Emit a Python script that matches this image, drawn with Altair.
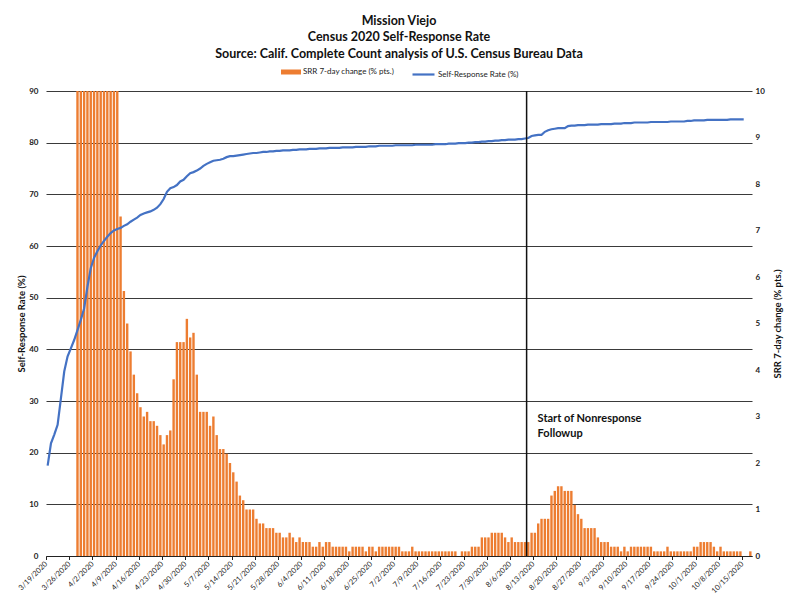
import altair as alt
import pandas as pd

START = "2020-03-19"
LINE_NAME = "Self-Response Rate (%)"
BAR_NAME = "SRR 7-day change (% pts.)"

# SRR 7-day change (% pts.), one value per day starting 3/19/2020
srr_7day = (
    [None] * 9
    + [10] * 13
    + [7.3, 5.7, 5.0, 4.4, 3.9, 3.5, 3.2, 3.0, 3.1, 2.9, 2.9, 2.8, 2.6, 2.4, 2.6, 2.7]
    + [3.8, 4.6, 4.6, 4.6, 5.1, 4.7, 4.8, 3.9, 3.1, 3.1, 3.1, 2.8, 3.0, 2.6, 2.3, 2.3, 2.2, 2.0]
    + [1.8, 1.6, 1.3, 1.2, 1.0, 1.0, 1.0, 0.8, 0.7, 0.7, 0.6, 0.6, 0.6, 0.5, 0.5]
    + [0.4, 0.4, 0.5, 0.4, 0.3, 0.4, 0.3, 0.3, 0.3, 0.2, 0.2, 0.3, 0.2, 0.3, 0.3]
    + [0.2, 0.2, 0.2, 0.2, 0.2, 0.1, 0.2, 0.2, 0.2, 0.2, 0.1, 0.2, 0.2, 0.1, 0.2]
    + [0.2, 0.2, 0.2, 0.2, 0.2, 0.2, 0.1, 0.1, 0.1, 0.2, 0.1, 0.1, 0.1, 0.1, 0.1]
    + [0.1, 0.1, 0.1, 0.1, 0.1, 0.1, 0.1, 0.1, None, 0.1, 0.1, 0.1, 0.2, 0.2, 0.2]
    + [0.4, 0.4, 0.4, 0.5, 0.5, 0.5, 0.5, 0.4, 0.3, 0.4, 0.3, 0.3, 0.3, 0.3, 0.3]
    + [0.5, 0.5, 0.7, 0.8, 0.8, 0.8, 1.3, 1.4, 1.5, 1.5, 1.4, 1.4, 1.4, 1.1, 0.9]
    + [0.8, 0.6, 0.6, 0.6, 0.6, 0.4, 0.3, 0.3, 0.3, 0.2, 0.2, 0.2, 0.1, 0.2, 0.1]
    + [0.2, 0.2, 0.2, 0.2, 0.2, 0.2, 0.2, 0.1, 0.1, 0.1, 0.1, 0.2, 0.1, 0.1, 0.1]
    + [0.1, 0.1, 0.1, 0.1, 0.2, 0.2, 0.3, 0.3, 0.3, 0.3, 0.2, 0.1, 0.2, 0.1, 0.1]
    + [0.1, 0.1, 0.1, 0.1, None, None, 0.1]
)

# Self-Response Rate (%), one value per day starting 3/19/2020
srr = [
    17.5, 21.8, 23.5, 25.4, 30.5, 35.7, 38.6, 40.2, 41.8, 43.7,
    45.7, 47.9, 52.1, 55.7, 57.7, 59.0, 60.1, 61.0, 61.8, 62.5,
    63.0, 63.3, 63.5, 63.9, 64.2, 64.7, 65.1, 65.5, 66.0, 66.3,
    66.5, 66.7, 67.0, 67.4, 68.1, 69.1, 70.5, 71.2, 71.4, 71.8,
    72.5, 72.8, 73.5, 74.1, 74.3, 74.6, 75.0, 75.5, 75.9, 76.2,
    76.5, 76.6, 76.7, 76.9, 77.2, 77.4, 77.4, 77.5, 77.6, 77.7,
    77.8, 77.9, 78.0, 78.0, 78.1, 78.2, 78.2, 78.3, 78.3, 78.4,
    78.4, 78.5, 78.5, 78.5, 78.6, 78.6, 78.7, 78.7, 78.7, 78.8,
    78.8, 78.8, 78.9, 78.9, 78.9, 79.0, 79.0, 79.0, 79.0, 79.1,
    79.1, 79.1, 79.1, 79.2, 79.2, 79.2, 79.2, 79.3, 79.3, 79.3,
    79.4, 79.4, 79.4, 79.4, 79.4, 79.5, 79.5, 79.5, 79.5, 79.5,
    79.5, 79.6, 79.6, 79.6, 79.6, 79.6, 79.6, 79.7, 79.7, 79.7,
    79.7, 79.8, 79.8, 79.8, 79.9, 79.9, 79.9, 80.0, 80.0, 80.1,
    80.1, 80.2, 80.2, 80.3, 80.3, 80.4, 80.4, 80.5, 80.5, 80.6,
    80.6, 80.6, 80.7, 80.7, 80.8, 80.9, 81.3, 81.4, 81.5, 81.5,
    82.1, 82.4, 82.6, 82.7, 82.8, 82.8, 82.8, 83.2, 83.3, 83.3,
    83.4, 83.4, 83.4, 83.5, 83.5, 83.5, 83.5, 83.6, 83.6, 83.6,
    83.6, 83.7, 83.7, 83.7, 83.8, 83.8, 83.8, 83.9, 83.9, 83.9,
    83.9, 83.9, 84.0, 84.0, 84.0, 84.0, 84.0, 84.0, 84.1, 84.1,
    84.1, 84.1, 84.1, 84.2, 84.2, 84.3, 84.3, 84.3, 84.3, 84.4,
    84.4, 84.4, 84.4, 84.4, 84.4, 84.4, 84.5, 84.5, 84.5, 84.5, 84.5,
]

tick_dates = pd.date_range("2020-03-19", "2020-10-15", freq="7D")
nrfu_date = "2020-08-11T00:00:00"
nrfu_label = "Start of Nonresponse\nFollowup"
nrfu_label_y = 25.9
title_lines = [
    "Mission Viejo",
    "Census 2020 Self-Response Rate",
    "Source: Calif. Complete Count analysis of U.S. Census Bureau Data",
]

def day_strings(n):
    ds = pd.date_range(START, periods=n, freq="D") + pd.Timedelta(hours=12)
    return [d.strftime("%Y-%m-%dT%H:%M:%S") for d in ds]

bars_df = pd.DataFrame({"date": day_strings(len(srr_7day)), "chg": srr_7day, "series": BAR_NAME})
bars_df = bars_df.dropna()
line_df = pd.DataFrame({"date": day_strings(len(srr)), "srr": srr, "series": LINE_NAME})
nrfu_df = pd.DataFrame({"date": [nrfu_date], "srr": [nrfu_label_y], "label": [nrfu_label]})

FONT = "Lato"

x_enc = alt.X(
    "date:T",
    scale=alt.Scale(domain=[alt.DateTime(year=2020, month=3, date=19),
                            alt.DateTime(year=2020, month=10, date=18)],
                    padding=0),
    axis=alt.Axis(
        values=[alt.DateTime(year=d.year, month=d.month, date=d.day) for d in tick_dates],
        format="%-m/%-d/%Y", labelAngle=-45, labelAlign="right", labelBaseline="middle",
        labelFontSize=7.5, labelFont=FONT,
        labelColor="#222", grid=False, domainColor="#222", tickColor="#222",
        tickSize=3.5, labelPadding=3, title=None, labelOverlap=False,
    ),
)

y_left = alt.Y(
    "srr:Q",
    scale=alt.Scale(domain=[0, 90], nice=False),
    axis=alt.Axis(
        orient="left", values=list(range(0, 91, 10)), grid=True, gridColor="#3a3a3a",
        gridWidth=1.2, domain=False, ticks=False, labelFontSize=8, labelFont=FONT,
        labelFontWeight="bold", labelColor="#222", labelPadding=8,
        title=LINE_NAME, titleFont=FONT, titleFontSize=9.5, titleFontWeight="bold",
        titleColor="#111", titlePadding=2,
    ),
)

y_right = alt.Y(
    "chg:Q",
    scale=alt.Scale(domain=[0, 10], nice=False),
    axis=alt.Axis(
        orient="right", values=list(range(0, 11)), grid=False, domain=False, ticks=False,
        labelFontSize=8, labelFont=FONT, labelFontWeight="bold", labelColor="#222",
        labelPadding=3, title=BAR_NAME, titleFont=FONT, titleFontSize=9.5,
        titleFontWeight="bold", titleColor="#111", titleAngle=270, titlePadding=18,
    ),
)

bars = alt.Chart(bars_df).mark_bar(width=2.4, clip=True).encode(
    x=x_enc,
    y=y_right,
    color=alt.Color(
        "series:N",
        scale=alt.Scale(domain=[BAR_NAME], range=["#ED7D31"]),
        legend=alt.Legend(
            orient="none", legendX=235, legendY=-29, title=None,
            symbolType="M-1,-0.25H1V0.25H-1Z", symbolSize=400, symbolStrokeWidth=0,
            labelFontSize=8, labelFont=FONT, labelColor="#222", labelOffset=2,
        ),
    ),
)

line = alt.Chart(line_df).mark_line(strokeWidth=2.2).encode(
    x=x_enc,
    y=y_left,
    stroke=alt.Stroke(
        "series:N",
        scale=alt.Scale(domain=[LINE_NAME], range=["#4472C4"]),
        legend=alt.Legend(
            orient="none", legendX=365, legendY=-29, title=None,
            symbolType="stroke", symbolSize=484, symbolStrokeWidth=2.2,
            labelFontSize=8, labelFont=FONT, labelColor="#222", labelOffset=2,
        ),
    ),
)

rule = alt.Chart(nrfu_df).mark_rule(color="#111", strokeWidth=1.5).encode(x=x_enc)

note = alt.Chart(nrfu_df).mark_text(
    align="left", baseline="alphabetic", dx=11, font=FONT, fontSize=11,
    fontWeight="bold", lineBreak="\n", lineHeight=15, color="#111",
).encode(x=x_enc, y=y_left, text="label:N")

chart = alt.layer(bars, alt.layer(line, rule, note)).resolve_scale(
    y="independent", color="independent", stroke="independent"
).properties(
    width=706,
    height=465,
    autosize=alt.AutoSizeParams(type="none"),
    padding={"left": 38, "top": 83, "right": 36, "bottom": 40},
    background="white",
    title=alt.TitleParams(
        text=title_lines, font=FONT, fontSize=12.5, fontWeight="bold", color="#111",
        anchor="middle", lineHeight=16.5, offset=2,
    ),
).configure_view(stroke=None)

chart.save("out.html", embed_options={"renderer": "svg", "actions": False})
